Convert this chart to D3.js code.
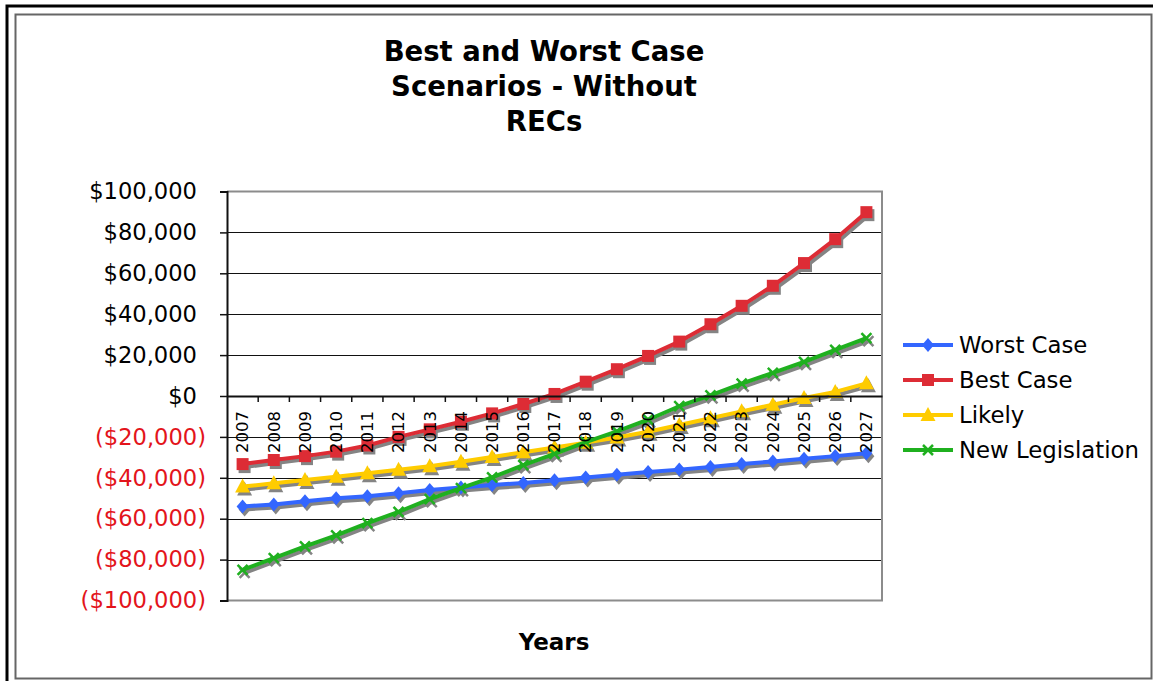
<!DOCTYPE html>
<html>
<head>
<meta charset="utf-8">
<script src="https://cdn.jsdelivr.net/npm/d3@7"></script>
<style>
  html, body { margin: 0; padding: 0; background: #fff; }
  svg { display: block; font-family: Verdana, "DejaVu Sans", sans-serif; }
</style>
</head>
<body>
<svg id="chart" width="1153" height="681"></svg>
<script>
// Scenario projections, one value per year
const years = ["2007","2008","2009","2010","2011","2012","2013","2014","2015","2016","2017",
               "2018","2019","2020","2021","2022","2023","2024","2025","2026","2027"];
const worstCase = [-54000,-53000,-51500,-50000,-49000,-47500,-46000,-44800,-43500,-42500,-41200,
                   -39800,-38500,-37200,-36000,-34700,-33300,-32000,-30700,-29400,-28000];
const bestCase = [-33300,-31300,-29400,-27200,-24200,-20000,-16300,-12600,-8500,-3900,1000,
                  7000,13100,19600,26600,35100,44100,53900,65000,76700,89900];
const likely = [-44300,-42700,-41100,-39500,-37800,-36100,-34300,-32200,-29800,-27500,-25200,
                -22800,-20300,-17500,-14200,-10900,-7500,-4300,-1000,2000,6200];
const newLegislation = [-85000,-79300,-73500,-68100,-62200,-56700,-50400,-45000,-39800,-33800,-28300,
                        -22600,-17300,-11600,-5000,300,6000,11300,16700,22500,28300];
const yTicks = [100000,80000,60000,40000,20000,0,-20000,-40000,-60000,-80000,-100000];
const titleLines = ["Best and Worst Case", "Scenarios - Without", "RECs"];

const series = [
  { name: "Worst Case", values: worstCase, color: "#3366ff", marker: "diamond" },
  { name: "Best Case", values: bestCase, color: "#dd2c35", marker: "square" },
  { name: "Likely", values: likely, color: "#ffcc00", marker: "triangle" },
  { name: "New Legislation", values: newLegislation, color: "#1fb01f", marker: "cross" }
];

const svg = d3.select("#chart");

// Outer frames
svg.append("rect").attr("x", 7).attr("y", 6).attr("width", 1170).attr("height", 700)
  .attr("fill", "none").attr("stroke", "#000").attr("stroke-width", 3);
svg.append("rect").attr("x", 15.5).attr("y", 14.5).attr("width", 1136).attr("height", 664)
  .attr("fill", "#fff").attr("stroke", "#666").attr("stroke-width", 2);

const plot = { left: 227, right: 882, top: 191.5, bottom: 600.5 };

const x = d3.scaleBand().domain(years).range([plot.left, plot.right]).padding(0);
const cx = d => x(d) + x.bandwidth() / 2;
const y = d3.scaleLinear().domain([-100000, 100000]).range([plot.bottom, plot.top]);

// Gridlines
svg.append("g").selectAll("line").data(yTicks.filter(v => v !== 0 && v !== -100000 && v !== 100000))
  .join("line")
  .attr("x1", plot.left).attr("x2", plot.right)
  .attr("y1", d => Math.round(y(d)) + 0.5).attr("y2", d => Math.round(y(d)) + 0.5)
  .attr("stroke", "#111").attr("stroke-width", 1);

// Plot area border (top, right, bottom)
svg.append("path")
  .attr("d", `M${plot.left},${plot.top}H${plot.right}V${plot.bottom}H${plot.left}`)
  .attr("fill", "none").attr("stroke", "#8c8c8c").attr("stroke-width", 2);

// Y axis; negative values use accounting parentheses that hang past the digits
const yAxis = d3.axisLeft(y).tickValues(yTicks).tickSize(7).tickPadding(23)
  .tickFormat(v => v < 0 ? "($" + d3.format(",")(-v) + ")" : "$" + d3.format(",")(v));
const yg = svg.append("g").attr("transform", `translate(${plot.left},0)`).call(yAxis);
yg.select(".domain").attr("stroke", "#111").attr("stroke-width", 2);
yg.selectAll(".tick line").attr("stroke", "#111").attr("stroke-width", 1.5);
yg.selectAll(".tick text")
  .attr("font-size", 22.6)
  .attr("font-family", "Verdana, 'DejaVu Sans', sans-serif")
  .attr("dx", d => d < 0 ? 9 : 0)
  .attr("fill", d => d < 0 ? "#e3141b" : "#000");

// Series shapes
function markerPath(type) {
  switch (type) {
    case "diamond": return "M0,-7L6,0L0,7L-6,0Z";
    case "square": return "M-6,-6H6V6H-6Z";
    case "triangle": return "M0,-8L7.5,6H-7.5Z";
    case "cross": return "M-5,-5L5,5M-5,5L5,-5";
  }
}

const line = d3.line().x((d, i) => cx(years[i])).y(d => y(d));

const sg = svg.append("g");
// Drop shadows first
series.forEach(s => {
  const g = sg.append("g").attr("transform", "translate(2,3)");
  g.append("path").attr("d", line(s.values)).attr("fill", "none")
    .attr("stroke", "#848484").attr("stroke-width", 4).attr("stroke-linejoin", "round");
  g.selectAll("path.m").data(s.values).join("path").attr("class", "m")
    .attr("transform", (d, i) => `translate(${cx(years[i])},${y(d)})`)
    .attr("d", markerPath(s.marker))
    .attr("fill", s.marker === "cross" ? "none" : "#848484")
    .attr("stroke", "#848484").attr("stroke-width", s.marker === "cross" ? 2.5 : 0);
});
series.forEach(s => {
  const g = sg.append("g");
  g.append("path").attr("d", line(s.values)).attr("fill", "none")
    .attr("stroke", s.color).attr("stroke-width", 4).attr("stroke-linejoin", "round");
  g.selectAll("path.m").data(s.values).join("path").attr("class", "m")
    .attr("transform", (d, i) => `translate(${cx(years[i])},${y(d)})`)
    .attr("d", markerPath(s.marker))
    .attr("fill", s.marker === "cross" ? "none" : s.color)
    .attr("stroke", s.color).attr("stroke-width", s.marker === "cross" ? 2.5 : 0);
});

// Category axis at zero
const xAxis = d3.axisBottom(x).tickSize(0).tickPadding(0);
const xg = svg.append("g").attr("transform", `translate(0,${y(0)})`).call(xAxis);
xg.select(".domain").attr("stroke", "#111").attr("stroke-width", 2);
xg.selectAll(".tick text")
  .attr("font-size", 16.5)
  .attr("font-family", "Verdana, 'DejaVu Sans', sans-serif")
  .attr("fill", "#000")
  .attr("text-anchor", "end")
  .attr("dy", "0.35em")
  .attr("transform", "translate(0,15) rotate(-90)")
  .attr("y", 0).attr("x", 0);
// Tick marks between categories
svg.append("g").selectAll("line").data(years.slice(1)).join("line")
  .attr("x1", d => x(d)).attr("x2", d => x(d))
  .attr("y1", y(0)).attr("y2", y(0) + 6)
  .attr("stroke", "#111").attr("stroke-width", 1.5);

// Title
svg.append("g").selectAll("text").data(titleLines).join("text")
  .attr("x", 544).attr("y", (d, i) => 61 + i * 35)
  .attr("text-anchor", "middle")
  .attr("font-size", 27.5).attr("font-weight", "bold")
  .attr("fill", "#000")
  .text(d => d);

// Axis title
svg.append("text").attr("x", 554).attr("y", 650)
  .attr("text-anchor", "middle").attr("font-size", 23).attr("font-weight", "bold")
  .text("Years");

// Legend
const lg = svg.append("g");
series.forEach((s, i) => {
  const ly = 345 + i * 35;
  lg.append("line").attr("x1", 903).attr("x2", 953).attr("y1", ly).attr("y2", ly)
    .attr("stroke", s.color).attr("stroke-width", 4);
  lg.append("path").attr("transform", `translate(928,${ly})`)
    .attr("d", markerPath(s.marker))
    .attr("fill", s.marker === "cross" ? "none" : s.color)
    .attr("stroke", s.color).attr("stroke-width", s.marker === "cross" ? 2.5 : 0);
  lg.append("text").attr("x", 959).attr("y", ly + 8)
    .attr("font-size", 22.8).attr("fill", "#000").text(s.name);
});
</script>
</body>
</html>
